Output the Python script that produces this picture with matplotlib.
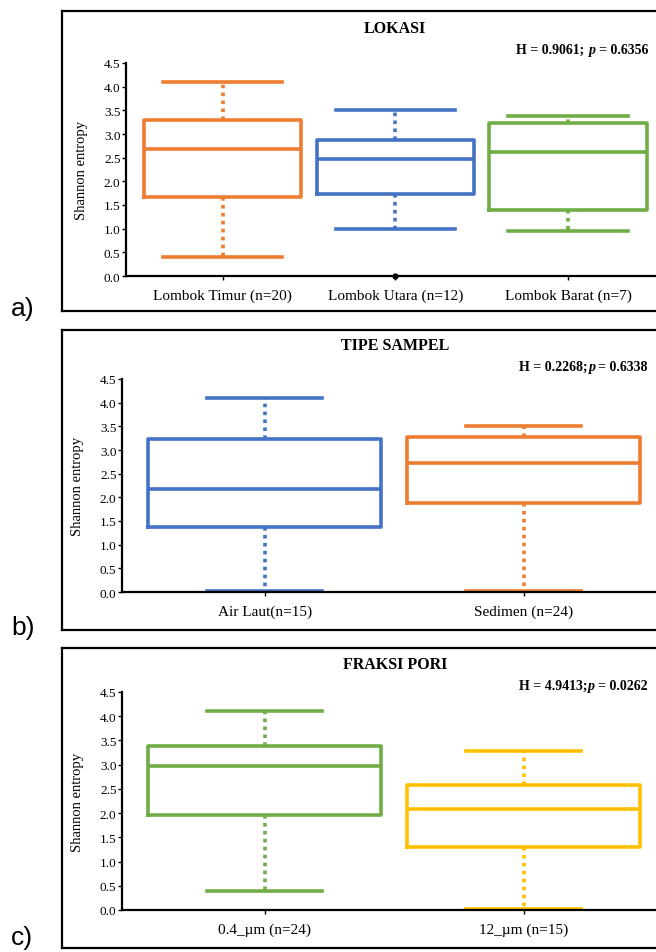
import matplotlib
matplotlib.use("Agg")
import matplotlib.pyplot as plt
from matplotlib.lines import Line2D

plt.rcParams['font.family'] = ['Liberation Serif', 'DejaVu Serif']

# panel a: lokasi
lok_labels = ['Lombok Timur (n=20)', 'Lombok Utara (n=12)', 'Lombok Barat (n=7)']
lok_min = [0.40, 1.00, 0.95]
lok_q1 = [1.67, 1.73, 1.40]
lok_med = [2.68, 2.48, 2.63]
lok_q3 = [3.30, 2.88, 3.23]
lok_max = [4.10, 3.50, 3.38]
lok_colors = ['#ED7D31', '#4472C4', '#70AD47']

# panel b: tipe sampel
tipe_labels = ['Air Laut(n=15)', 'Sedimen (n=24)']
tipe_min = [0.02, 0.02]
tipe_q1 = [1.38, 1.88]
tipe_med = [2.18, 2.73]
tipe_q3 = [3.23, 3.27]
tipe_max = [4.10, 3.50]
tipe_colors = ['#4472C4', '#ED7D31']

# panel c: fraksi pori
pori_labels = ['0.4_\u00b5m (n=24)', '12_\u00b5m (n=15)']
pori_min = [0.40, 0.02]
pori_q1 = [1.97, 1.30]
pori_med = [2.97, 2.08]
pori_q3 = [3.38, 2.58]
pori_max = [4.10, 3.28]
pori_colors = ['#70AD47', '#FFC000']

titles = ['LOKASI', 'TIPE SAMPEL', 'FRAKSI PORI']
# (text before p, gap after ';', text after p)
stats_h = ['H = 0.9061;', 'H = 0.2268;', 'H = 4.9413;']
stats_p = ['= 0.6356', '= 0.6338', '= 0.0262']
stats_gap = [4, 1, 1]

W, H = 656, 953
fig = plt.figure(figsize=(W / 100, H / 100), dpi=100)
renderer = fig.canvas.get_renderer()


def px(x0, y_top, x1, y_bot):
    return [x0 / W, 1 - y_bot / H, (x1 - x0) / W, (y_bot - y_top) / H]


def draw_panel(rect, labels, mins, q1s, meds, q3s, maxs, colors, xlim, boxw, capw):
    ax = fig.add_axes(rect)
    for i in range(len(labels)):
        st = [dict(whislo=mins[i], q1=q1s[i], med=meds[i], q3=q3s[i], whishi=maxs[i], fliers=[])]
        c = colors[i]
        ax.bxp(st, positions=[i], widths=boxw, capwidths=capw, showfliers=False,
               boxprops=dict(color=c, lw=2.6),
               medianprops=dict(color=c, lw=2.6),
               whiskerprops=dict(color=c, lw=2.6, linestyle=(0, (1, 1.2))),
               capprops=dict(color=c, lw=2.6))
    ax.set_xlim(*xlim)
    ax.set_ylim(0, 4.5)
    ax.set_yticks([0, 0.5, 1, 1.5, 2, 2.5, 3, 3.5, 4, 4.5])
    ax.set_yticklabels(['%.1f' % v for v in ax.get_yticks()], fontsize=9.5)
    ax.set_xticks(range(len(labels)))
    ax.set_xticklabels(labels, fontsize=11)
    ax.tick_params(axis='y', length=3, width=1, pad=1)
    ax.tick_params(axis='x', length=3, width=1, pad=6)
    ax.set_ylabel('Shannon entropy', fontsize=10.5, labelpad=11)
    for s in ['top', 'right']:
        ax.spines[s].set_visible(False)
    for s in ['left', 'bottom']:
        ax.spines[s].set_linewidth(1.6)
    return ax


ax1 = draw_panel(px(126, 64, 656, 277), lok_labels, lok_min, lok_q1, lok_med, lok_q3, lok_max,
                 lok_colors, (-0.56, 2.51), 0.91, 0.69)
ax1.plot([1], [0], 'o', color='black', ms=3.5, clip_on=False, zorder=5)
ax2 = draw_panel(px(122, 380, 656, 593), tipe_labels, tipe_min, tipe_q1, tipe_med, tipe_q3, tipe_max,
                 tipe_colors, (-0.55, 1.51), 0.9, 0.445)
ax3 = draw_panel(px(122, 693, 656, 911), pori_labels, pori_min, pori_q1, pori_med, pori_q3, pori_max,
                 pori_colors, (-0.55, 1.51), 0.9, 0.445)


def stats_text(x_right, y, k):
    # right to left: "= 0.6356", italic "p", "H = 0.9061;"
    pieces = [(stats_p[k], 'normal', 3), ('p', 'italic', stats_gap[k]), (stats_h[k], 'normal', 0)]
    cur = x_right
    for txt, sty, gap in pieces:
        t = fig.text(cur / W, 1 - y / H, txt, ha='right', va='baseline', fontsize=10,
                     fontweight='bold', style=sty)
        bb = t.get_window_extent(renderer)
        cur = bb.x0 - gap


# frames and panel text
frames = [(12, 312), (331, 631), (649, 949)]
title_y = [29, 346, 665]
stats_y = [54, 371, 690]
label_y = [309, 628, 938]
for k, (yt, yb) in enumerate(frames):
    x0 = 62 / W
    xr = 1.02
    for xs, ys in [([x0, x0], [1 - yt / H, 1 - yb / H]),
                   ([x0, xr], [1 - yt / H, 1 - yt / H]),
                   ([x0, xr], [1 - yb / H, 1 - yb / H])]:
        fig.add_artist(Line2D(xs, ys, color='black', lw=1.6, transform=fig.transFigure))
    fig.text(395 / W, 1 - title_y[k] / H, titles[k], ha='center', va='center',
             fontsize=11.5, fontweight='bold')
    stats_text(648, stats_y[k], k)
    fig.text(11 / W, 1 - label_y[k] / H, 'abc'[k] + ')', ha='left', va='center',
             fontsize=19, family='Liberation Sans')

fig.savefig('out.png', dpi=100)
